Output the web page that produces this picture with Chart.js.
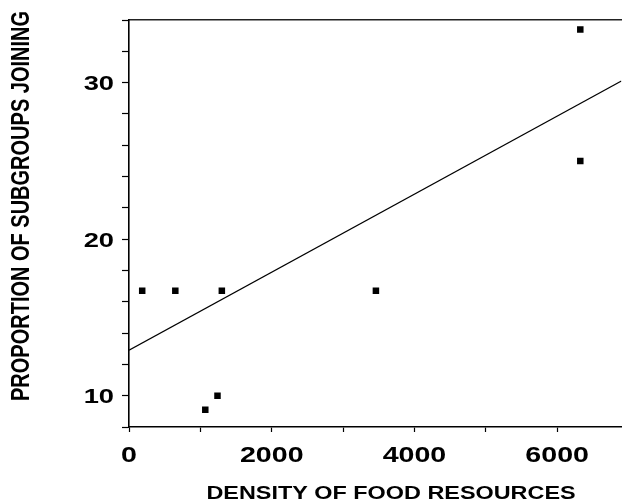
<!DOCTYPE html>
<html>
<head>
<meta charset="utf-8">
<script src="https://cdn.jsdelivr.net/npm/chart.js@4.4.1/dist/chart.umd.min.js"></script>
<style>
  html, body { margin: 0; padding: 0; background: #fff; }
  #chart { display: block; }
</style>
</head>
<body>
<canvas id="chart" width="626" height="500"></canvas>
<script>
// observed points (density of food resources vs proportion joining)
const densityX = [185, 649, 1301, 1069, 1240, 3460, 6324, 6324];
const proportionY = [16.7, 16.7, 16.7, 9.1, 10.0, 16.7, 33.4, 25.0];

// fitted line, ends
const fitX = [0, 6900];
const fitY = [12.9, 30.1];

// tick marks and which ones carry a label
const xTickValues = [0, 1000, 2000, 3000, 4000, 5000, 6000];
const xTickLabels = [0, 2000, 4000, 6000];
const yTickLabels = [10, 20, 30];

const xTitle = 'DENSITY OF FOOD RESOURCES';
const yTitle = 'PROPORTION OF SUBGROUPS JOINING';

const FONT = '"Liberation Sans", Arial, Helvetica, sans-serif';
const STRETCH = 1.3; // the scanned figure is wider than tall

function toPoints(xs, ys) {
	return xs.map(function(x, i) { return { x: x, y: ys[i] }; });
}

function stretchedText(ctx, text, x, y, rotate) {
	ctx.save();
	ctx.translate(x, y);
	ctx.scale(STRETCH, 1);
	if (rotate) ctx.rotate(-Math.PI / 2);
	ctx.fillText(text, 0, 0);
	ctx.restore();
}

// tick labels and axis titles, placed with the chart's own scales
const labelPlugin = {
	id: 'stretchLabels',
	afterDraw: function(chart) {
		const ctx = chart.ctx;
		const area = chart.chartArea;
		const xs = chart.scales.x;
		const ys = chart.scales.y;
		ctx.save();
		ctx.fillStyle = '#000';
		ctx.textBaseline = 'alphabetic';

		// x tick labels
		ctx.font = 'bold 22px ' + FONT;
		ctx.textAlign = 'center';
		xTickLabels.forEach(function(v) {
			stretchedText(ctx, String(v), xs.getPixelForValue(v), area.bottom + 35, false);
		});

		// y tick labels
		ctx.font = 'bold 21px ' + FONT;
		ctx.textAlign = 'right';
		yTickLabels.forEach(function(v) {
			stretchedText(ctx, String(v), area.left - 15, ys.getPixelForValue(v) + 7.5, false);
		});

		// x title
		ctx.font = 'bold 18px ' + FONT;
		ctx.textAlign = 'center';
		stretchedText(ctx, xTitle, area.left + 262, 499, false);

		// y title
		ctx.font = 'bold 20px ' + FONT;
		ctx.textBaseline = 'middle';
		stretchedText(ctx, yTitle, 22, area.top + 186, true);

		ctx.restore();
	}
};

const ctx = document.getElementById('chart');

new Chart(ctx, {
	type: 'scatter',
	data: {
		datasets: [{
			label: 'fit',
			type: 'line',
			data: toPoints(fitX, fitY),
			borderColor: '#000',
			borderWidth: 1.3,
			pointRadius: 0,
			fill: false,
			tension: 0,
			xAxisID: 'x',
			yAxisID: 'y'
		}, {
			label: 'subgroups',
			data: toPoints(densityX, proportionY),
			pointStyle: 'rect',
			pointRadius: 4.6,
			backgroundColor: '#000',
			borderColor: '#000',
			borderWidth: 0,
			xAxisID: 'x',
			yAxisID: 'y'
		}]
	},
	options: {
		responsive: false,
		animation: false,
		devicePixelRatio: 1,
		layout: { padding: 0 },
		plugins: {
			legend: { display: false },
			tooltip: { enabled: false }
		},
		scales: {
			x: {
				type: 'linear',
				position: 'bottom',
				min: 0,
				max: 6900,
				afterBuildTicks: function(scale) {
					// chart.js would spread 6900 into 7 equal steps, so set the ticks here
					scale.ticks = xTickValues.map(function(v) { return { value: v }; });
				},
				afterFit: function(scale) { scale.height = 73; },
				ticks: { display: false },
				grid: {
					drawOnChartArea: false,
					drawTicks: true,
					tickLength: 5,
					tickColor: '#000',
					tickWidth: 1.2
				},
				border: { display: true, color: '#000', width: 1.6 }
			},
			x2: {
				type: 'linear',
				position: 'top',
				min: 0,
				max: 6900,
				afterFit: function(scale) { scale.height = 20; },
				ticks: { display: false },
				grid: { display: false, drawTicks: false },
				border: { display: true, color: '#222', width: 1.4 }
			},
			y: {
				type: 'linear',
				position: 'left',
				min: 8,
				max: 34,
				afterFit: function(scale) { scale.width = 129; },
				ticks: { stepSize: 2, display: false },
				grid: {
					drawOnChartArea: false,
					drawTicks: true,
					tickLength: 7,
					tickColor: '#000',
					tickWidth: 1.2
				},
				border: { display: true, color: '#000', width: 1.6 }
			}
		}
	},
	plugins: [labelPlugin]
});
</script>
</body>
</html>
